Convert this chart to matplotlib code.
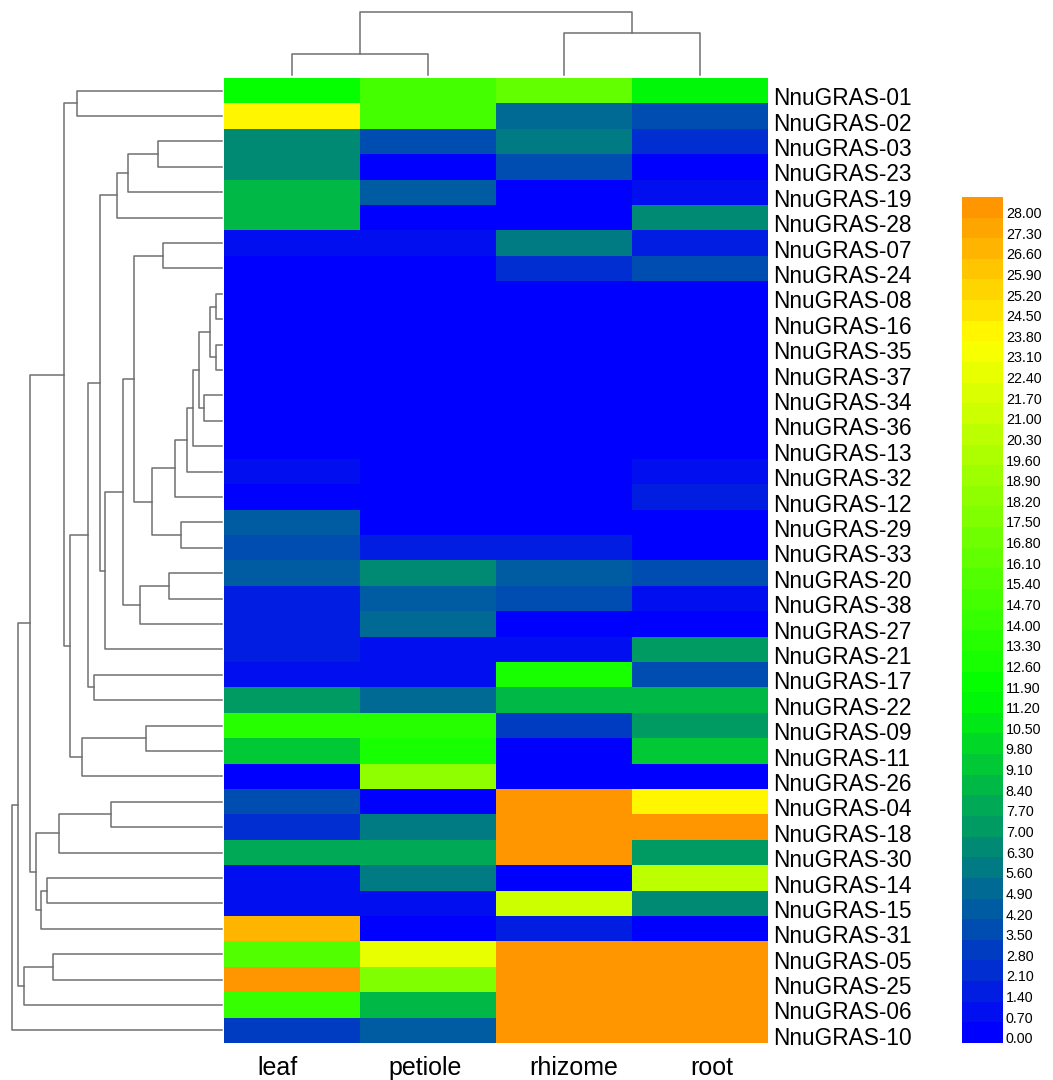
import numpy as np
import matplotlib
matplotlib.use("Agg")
import matplotlib.pyplot as plt
from matplotlib.colors import LinearSegmentedColormap, ListedColormap, BoundaryNorm

plt.rcParams["font.family"] = ["Liberation Sans", "DejaVu Sans"]

TISSUES = ["leaf", "petiole", "rhizome", "root"]

GENES = ["NnuGRAS-01", "NnuGRAS-02", "NnuGRAS-03", "NnuGRAS-23", "NnuGRAS-19",
         "NnuGRAS-28", "NnuGRAS-07", "NnuGRAS-24", "NnuGRAS-08", "NnuGRAS-16",
         "NnuGRAS-35", "NnuGRAS-37", "NnuGRAS-34", "NnuGRAS-36", "NnuGRAS-13",
         "NnuGRAS-32", "NnuGRAS-12", "NnuGRAS-29", "NnuGRAS-33", "NnuGRAS-20",
         "NnuGRAS-38", "NnuGRAS-27", "NnuGRAS-21", "NnuGRAS-17", "NnuGRAS-22",
         "NnuGRAS-09", "NnuGRAS-11", "NnuGRAS-26", "NnuGRAS-04", "NnuGRAS-18",
         "NnuGRAS-30", "NnuGRAS-14", "NnuGRAS-15", "NnuGRAS-31", "NnuGRAS-05",
         "NnuGRAS-25", "NnuGRAS-06", "NnuGRAS-10"]

# expression per tissue (leaf, petiole, rhizome, root), same order as GENES
leaf = [11.7, 23.8, 6.1, 6.1, 8.4, 8.4, 0.9, 0.0, 0.0, 0.0, 0.0, 0.0, 0.0, 0.0,
        0.0, 0.9, 0.0, 4.4, 3.5, 4.4, 1.4, 1.4, 1.4, 0.5, 7.0, 13.3, 9.1, 0.2,
        3.5, 2.1, 7.5, 0.7, 0.7, 26.4, 15.4, 27.8, 13.7, 3.0]
petiole = [14.6, 14.4, 3.5, 0.0, 4.4, 0.0, 0.9, 0.0, 0.0, 0.0, 0.0, 0.0, 0.0, 0.0,
           0.0, 0.0, 0.0, 0.0, 1.2, 6.3, 4.2, 5.1, 0.9, 0.9, 4.9, 13.3, 12.8, 18.2,
           0.0, 5.6, 7.5, 5.6, 0.9, 0.2, 22.4, 17.5, 8.6, 4.4]
rhizome = [15.8, 4.7, 5.8, 3.5, 0.0, 0.0, 5.8, 2.1, 0.0, 0.0, 0.0, 0.0, 0.0, 0.0,
           0.0, 0.0, 0.0, 0.0, 1.2, 4.4, 3.5, 0.0, 0.9, 12.8, 8.6, 2.8, 0.0, 0.0,
           28.0, 28.0, 28.0, 0.0, 21.0, 1.2, 28.0, 28.0, 28.0, 28.0]
root = [11.5, 3.5, 1.9, 0.2, 0.9, 6.0, 1.6, 3.5, 0.0, 0.0, 0.0, 0.0, 0.0, 0.0,
        0.0, 0.7, 1.4, 0.0, 0.0, 3.5, 0.9, 0.0, 7.2, 3.5, 8.6, 7.0, 8.9, 0.0,
        24.0, 28.0, 7.0, 20.3, 6.3, 0.2, 28.0, 28.0, 28.0, 28.0]

LEVELS = np.round(np.arange(0, 28.01, 0.7), 2)

# row clustering: (left, right, height)
g03 = ((("NnuGRAS-03", "NnuGRAS-23", 64), "NnuGRAS-19", 94), "NnuGRAS-28", 105)
gsmall = (((((("NnuGRAS-08", "NnuGRAS-16", 6), ("NnuGRAS-35", "NnuGRAS-37", 6), 12),
             ("NnuGRAS-34", "NnuGRAS-36", 18), 23), "NnuGRAS-13", 29),
           "NnuGRAS-32", 35), "NnuGRAS-12", 47)
ga = (gsmall, ("NnuGRAS-29", "NnuGRAS-33", 41), 70)
gb = (("NnuGRAS-07", "NnuGRAS-24", 59), ga, 88)
gc = (("NnuGRAS-20", "NnuGRAS-38", 53), "NnuGRAS-27", 82)
gd = ((gb, gc, 99), "NnuGRAS-21", 117)
gg = ((g03, gd, 122), ("NnuGRAS-17", "NnuGRAS-22", 128), 134)
gh = (("NnuGRAS-09", "NnuGRAS-11", 76), "NnuGRAS-26", 140)
gA = (("NnuGRAS-01", "NnuGRAS-02", 145), (gg, gh, 152), 158)
gk = (((("NnuGRAS-04", "NnuGRAS-18", 111), "NnuGRAS-30", 163),
       (("NnuGRAS-14", "NnuGRAS-15", 175), "NnuGRAS-31", 181), 186))
gl = (("NnuGRAS-05", "NnuGRAS-25", 169), "NnuGRAS-06", 198)
ROW_TREE = ((((gA, gk, 192)), gl, 204), "NnuGRAS-10", 210)

COL_TREE = (("leaf", "petiole", 21), ("rhizome", "root", 42), 63)

LINE = "#707070"


def draw_tree(ax, node, order, vertical):
    # returns (position, height) of node
    if isinstance(node, str):
        return order.index(node) + 0.5, 0
    p1, h1 = draw_tree(ax, node[0], order, vertical)
    p2, h2 = draw_tree(ax, node[1], order, vertical)
    h = node[2]
    if vertical:
        ax.plot([h1, h, h, h2], [p1, p1, p2, p2], color=LINE, lw=1.1)
    else:
        ax.plot([p1, p1, p2, p2], [h1, h, h, h2], color=LINE, lw=1.1)
    return (p1 + p2) / 2, h


W, H = 1053, 1080
fig = plt.figure(figsize=(W / 100, H / 100), dpi=100)


def box(x0, y0, x1, y1):
    return [x0 / W, 1 - y1 / H, (x1 - x0) / W, (y1 - y0) / H]


cmap_base = LinearSegmentedColormap.from_list(
    "expr", [(0, (0, 0, 1)), (11.55 / 28, (0, 1, 0)),
             (23.45 / 28, (1, 1, 0)), (1, (1, 150 / 255, 0))])
cmap = ListedColormap([cmap_base(v / 28) for v in LEVELS])
bounds = np.concatenate([LEVELS - 0.35, [LEVELS[-1] + 0.35]])
norm = BoundaryNorm(bounds, cmap.N)

data = np.column_stack([leaf, petiole, rhizome, root])

# heatmap
ax = fig.add_axes(box(224, 78, 768, 1043))
ax.imshow(data, cmap=cmap, norm=norm, aspect="auto", interpolation="nearest",
          extent=(0, 4, len(GENES), 0))
ax.set_xlim(0, 4)
ax.set_ylim(len(GENES), 0)
ax.yaxis.tick_right()
ax.set_yticks(np.arange(len(GENES)) + 0.72)
ax.set_yticklabels(GENES, fontsize=16.3)
ax.tick_params(axis="y", length=0, pad=4)
ax.set_xticks([])
for s in ax.spines.values():
    s.set_visible(False)
label_x = [0.39, 1.48, 2.57, 3.59]
for t, lx in zip(TISSUES, label_x):
    ax.text(lx, len(GENES) + 1.0, t, ha="center", va="center", fontsize=18)

# row dendrogram
axl = fig.add_axes(box(0, 78, 224, 1043))
draw_tree(axl, ROW_TREE, GENES, vertical=True)
axl.set_xlim(222, -2)
axl.set_ylim(len(GENES), 0)
axl.axis("off")

# column dendrogram
axt = fig.add_axes(box(224, 0, 768, 78))
draw_tree(axt, COL_TREE, TISSUES, vertical=False)
axt.set_xlim(0, 4)
axt.set_ylim(-3, 75)
axt.axis("off")

# colour key
axc = fig.add_axes(box(962, 197, 1003, 1043))
axc.imshow(np.arange(len(LEVELS))[::-1].reshape(-1, 1), cmap=cmap, aspect="auto",
           interpolation="nearest", extent=(0, 1, -0.5, len(LEVELS) - 0.5),
           vmin=-0.5, vmax=len(LEVELS) - 0.5)
axc.set_xlim(0, 1)
axc.set_ylim(-0.5, len(LEVELS) - 0.5)
axc.yaxis.tick_right()
axc.set_yticks(np.arange(len(LEVELS)) - 0.25)
axc.set_yticklabels([f"{v:.2f}" for v in LEVELS], fontsize=10.3)
axc.tick_params(axis="y", length=0, pad=2)
axc.set_xticks([])
for s in axc.spines.values():
    s.set_visible(False)

fig.savefig("out.png", dpi=100)
